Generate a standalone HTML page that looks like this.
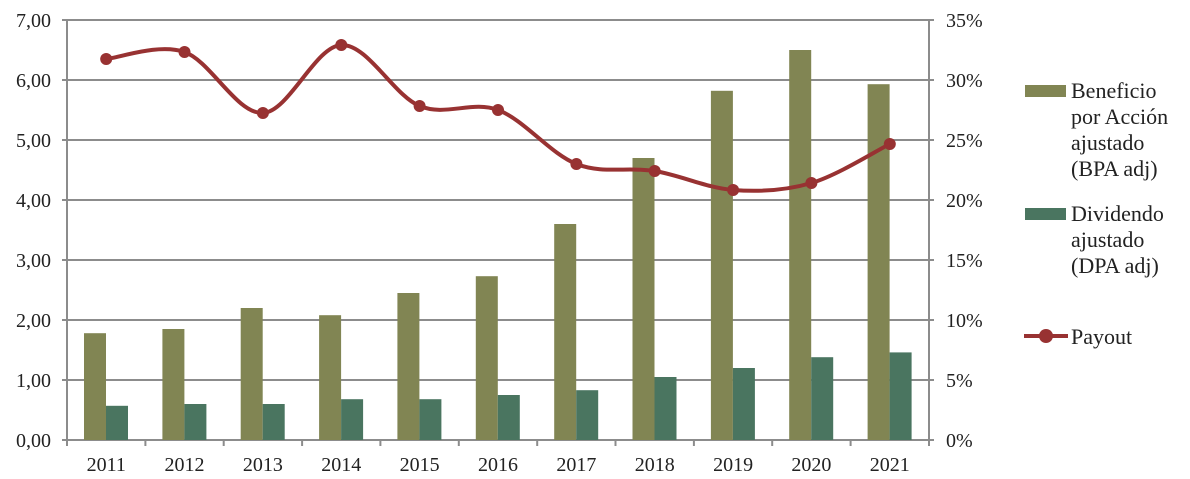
<!DOCTYPE html>
<html><head><meta charset="utf-8"><style>
html,body{margin:0;padding:0;background:#fff}
svg{display:block}
text{font-family:"Liberation Serif",serif;fill:#222}
</style></head><body>
<svg width="1190" height="479" viewBox="0 0 1190 479" xmlns="http://www.w3.org/2000/svg">
<g stroke="#8c8c8c" stroke-width="2">
<line x1="62" y1="20" x2="934" y2="20"/>
<line x1="62" y1="80" x2="934" y2="80"/>
<line x1="62" y1="140" x2="934" y2="140"/>
<line x1="62" y1="200" x2="934" y2="200"/>
<line x1="62" y1="260" x2="934" y2="260"/>
<line x1="62" y1="320" x2="934" y2="320"/>
<line x1="62" y1="380" x2="934" y2="380"/>
<line x1="62" y1="440" x2="934" y2="440"/>
<line x1="67" y1="20" x2="67" y2="446"/>
<line x1="929" y1="20" x2="929" y2="446"/>
<line x1="145.4" y1="440" x2="145.4" y2="446"/>
<line x1="223.7" y1="440" x2="223.7" y2="446"/>
<line x1="302.1" y1="440" x2="302.1" y2="446"/>
<line x1="380.4" y1="440" x2="380.4" y2="446"/>
<line x1="458.8" y1="440" x2="458.8" y2="446"/>
<line x1="537.2" y1="440" x2="537.2" y2="446"/>
<line x1="615.5" y1="440" x2="615.5" y2="446"/>
<line x1="693.9" y1="440" x2="693.9" y2="446"/>
<line x1="772.2" y1="440" x2="772.2" y2="446"/>
<line x1="850.6" y1="440" x2="850.6" y2="446"/>
</g>
<g fill="#818553">
<rect x="84" y="333.2" width="22" height="106.8"/>
<rect x="162.4" y="329" width="22" height="111"/>
<rect x="240.7" y="308" width="22" height="132"/>
<rect x="319.1" y="315.2" width="22" height="124.8"/>
<rect x="397.4" y="293" width="22" height="147"/>
<rect x="475.8" y="276.2" width="22" height="163.8"/>
<rect x="554.2" y="224" width="22" height="216"/>
<rect x="632.5" y="158" width="22" height="282"/>
<rect x="710.9" y="90.8" width="22" height="349.2"/>
<rect x="789.2" y="50" width="22" height="390"/>
<rect x="867.6" y="84.2" width="22" height="355.8"/>
</g>
<g fill="#4a7560">
<rect x="106" y="405.8" width="22" height="34.2"/>
<rect x="184.4" y="404" width="22" height="36"/>
<rect x="262.7" y="404" width="22" height="36"/>
<rect x="341.1" y="399.2" width="22" height="40.8"/>
<rect x="419.4" y="399.2" width="22" height="40.8"/>
<rect x="497.8" y="395" width="22" height="45"/>
<rect x="576.2" y="390.2" width="22" height="49.8"/>
<rect x="654.5" y="377" width="22" height="63"/>
<rect x="732.9" y="368" width="22" height="72"/>
<rect x="811.2" y="357.2" width="22" height="82.8"/>
<rect x="889.6" y="352.4" width="22" height="87.6"/>
</g>
<path d="M106.2,59 C119.3,57.8 158.4,43 184.5,52 C210.6,61 236.8,114.2 262.9,113 C289,111.8 315.2,46.2 341.3,45 C367.4,43.8 393.5,95.2 419.6,106 C445.7,116.8 471.9,100.3 498,110 C524.1,119.7 550.3,153.8 576.4,164 C602.5,174.2 628.6,166.7 654.7,171 C680.8,175.3 707,188 733.1,190 C759.2,192 785.3,190.7 811.4,183 C837.5,175.3 876.7,150.5 889.8,144" fill="none" stroke="#983232" stroke-width="4"/>
<g fill="#983232">
<circle cx="106.2" cy="59" r="6"/><circle cx="184.5" cy="52" r="6"/><circle cx="262.9" cy="113" r="6"/>
<circle cx="341.3" cy="45" r="6"/><circle cx="419.6" cy="106" r="6"/><circle cx="498" cy="110" r="6"/>
<circle cx="576.4" cy="164" r="6"/><circle cx="654.7" cy="171" r="6"/><circle cx="733.1" cy="190" r="6"/>
<circle cx="811.4" cy="183" r="6"/><circle cx="889.8" cy="144" r="6"/>
</g>
<g font-size="20" text-anchor="end">
<text x="51" y="27">7,00</text><text x="51" y="87">6,00</text><text x="51" y="147">5,00</text>
<text x="51" y="207">4,00</text><text x="51" y="267">3,00</text><text x="51" y="327">2,00</text>
<text x="51" y="387">1,00</text><text x="51" y="447">0,00</text>
</g>
<g font-size="20">
<text x="946" y="27">35%</text><text x="946" y="87">30%</text><text x="946" y="147">25%</text>
<text x="946" y="207">20%</text><text x="946" y="267">15%</text><text x="946" y="327">10%</text>
<text x="946" y="387">5%</text><text x="946" y="447">0%</text>
</g>
<g font-size="20" text-anchor="middle">
<text x="106.2" y="471">2011</text><text x="184.5" y="471">2012</text><text x="262.9" y="471">2013</text>
<text x="341.3" y="471">2014</text><text x="419.6" y="471">2015</text><text x="498" y="471">2016</text>
<text x="576.4" y="471">2017</text><text x="654.7" y="471">2018</text><text x="733.1" y="471">2019</text>
<text x="811.4" y="471">2020</text><text x="889.8" y="471">2021</text>
</g>
<rect x="1025" y="85" width="41" height="12" fill="#818553"/>
<rect x="1025" y="208" width="41" height="12" fill="#4a7560"/>
<line x1="1024" y1="336" x2="1068" y2="336" stroke="#983232" stroke-width="4"/>
<circle cx="1046" cy="336" r="7" fill="#983232"/>
<g font-size="22">
<text x="1071" y="98">Beneficio</text>
<text x="1071" y="124">por Acción</text>
<text x="1071" y="150">ajustado</text>
<text x="1071" y="176">(BPA adj)</text>
<text x="1071" y="221">Dividendo</text>
<text x="1071" y="247">ajustado</text>
<text x="1071" y="273">(DPA adj)</text>
<text x="1071" y="344">Payout</text>
</g>
</svg>
</body></html>
